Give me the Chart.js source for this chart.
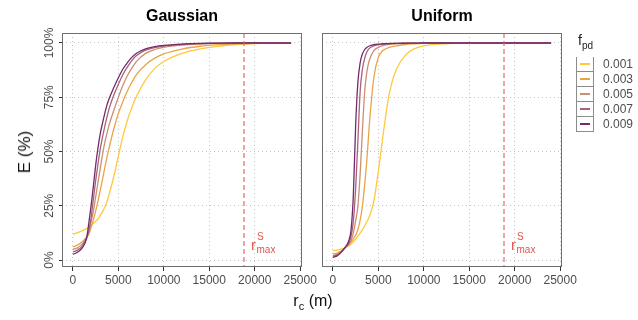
<!DOCTYPE html>
<html>
<head>
<meta charset="utf-8">
<script src="https://cdn.jsdelivr.net/npm/chart.js@4"></script>
<style>
body { margin: 0; background: #fff; font-family: "Liberation Sans", Arial, sans-serif; }
#wrap { position: relative; width: 638px; height: 320px; overflow: hidden; }
#wrap canvas { position: absolute; left: 0; top: 0; }
#ytitle { position: absolute; left: 25px; top: 152px; transform: translate(-50%, -50%) rotate(-90deg); font-size: 17px; font-weight: normal; color: #111; white-space: nowrap; }
#xtitle { position: absolute; left: 313px; top: 302px; transform: translate(-50%, -50%); font-size: 16px; color: #111; white-space: nowrap; }
#xtitle sub { font-size: 11px; }
#legend { position: absolute; left: 576px; top: 32px; font-size: 12px; color: #222; }
#legend .lt { font-size: 14px; margin-bottom: 6px; padding-left: 2px; }
#legend .lt sub { font-size: 10px; }
#legend .row { display: flex; align-items: center; height: 15px; }
#legend .key { width: 16px; height: 14px; border: 1px solid #8c8c8c; border-top-width: 0; position: relative; box-sizing: content-box; }
#legend .row:first-of-type .key { border-top-width: 1px; height: 13px; }
#legend .key span { position: absolute; left: 3px; right: 3px; top: 6px; height: 2px; }
#legend .txt { margin-left: 9px; color: #4d4d4d; }
</style>
</head>
<body>
<div id="wrap">
  <canvas id="gauss" width="638" height="320"></canvas>
  <canvas id="unif" width="638" height="320"></canvas>
  <div id="ytitle">E (%)</div>
  <div id="xtitle">r<sub>c</sub> (m)</div>
  <div id="legend"><div class="lt">f<sub>pd</sub></div></div>
</div>
<script>
// -------------------------------------------- data
const xs = [0, 500, 1000, 1500, 1750, 2000, 2250, 2500, 2750, 3000, 3250, 3500, 3750, 4000, 4500,
            5000, 5500, 6000, 6500, 7000, 8000, 9000, 10000, 12000, 14000, 16000, 18000, 20000, 22000, 24000];

const fpd = ['0.001', '0.003', '0.005', '0.007', '0.009'];
const colors = ['#FFC93C', '#E9A449', '#CC8F72', '#A8627A', '#742A6B'];

// Gaussian panel, E (%)
const g1 = [12, 12.6, 13.5, 14.5, 15.2, 16, 16.8, 17.8, 19, 20.5, 22.3, 24.3, 27, 30.5, 38.5, 48, 57, 64.5, 70.5, 75.5, 83, 88.3, 91.5, 95.2, 97.3, 98.5, 99.3, 99.7, 99.9, 100];
const g3 = [6.1, 6.9, 8.3, 10.5, 12.0, 15, 18.5, 22.5, 27, 32, 37, 42.5, 47.5, 52, 60.5, 67.5, 73, 78, 82, 85.5, 90, 93, 95, 97.2, 98.5, 99.2, 99.6, 99.8, 100, 100];
const g5 = [4.9, 5.6, 7.2, 10.5, 12.8, 17.5, 22.5, 29, 35.5, 42, 48.5, 54, 58.5, 62.5, 69, 75, 80.5, 85, 88.5, 91.5, 95.2, 97, 98, 99, 99.5, 99.8, 99.9, 100, 100, 100];
const g7 = [3.8, 4.6, 6.3, 10, 13.5, 19.5, 28, 36.5, 44, 51, 56.5, 61.5, 66, 70, 76, 81, 85.5, 89, 92, 94.2, 96.7, 97.9, 98.6, 99.4, 99.7, 99.9, 100, 100, 100, 100];
const g9 = [2.6, 3.6, 5.5, 10, 17, 25, 34, 43.5, 51.5, 58, 63, 67.5, 71.5, 74.5, 79.5, 84, 88, 91, 93.5, 95.3, 97.3, 98.3, 98.9, 99.5, 99.8, 99.9, 100, 100, 100, 100];

// Uniform panel, E (%)
const u1 = [4.3, 4.6, 5.1, 6.0, 6.6, 7.4, 8.4, 9.6, 11, 12.5, 14, 15.8, 17.8, 20, 27, 41, 57, 72, 82, 88, 94.5, 97.4, 98.7, 99.6, 99.9, 100, 100, 100, 100, 100];
const u3 = [2.8, 3.3, 4.5, 6.2, 7.2, 8.3, 9.8, 11.5, 14, 18.5, 25, 35, 47, 62, 84, 93.5, 96.5, 97.7, 98.3, 98.7, 99.3, 99.6, 99.8, 100, 100, 100, 100, 100, 100, 100];
const u5 = [2.1, 2.8, 4.2, 6.3, 7.3, 9.0, 12.5, 18, 25, 40, 60, 78, 87, 92, 96.5, 98, 98.8, 99.2, 99.5, 99.65, 99.8, 99.9, 99.95, 100, 100, 100, 100, 100, 100, 100];
const u7 = [1.7, 2.4, 4.1, 6.5, 7.8, 11, 18, 33, 55, 78, 88, 93, 96, 97.5, 98.7, 99.2, 99.5, 99.65, 99.75, 99.8, 99.9, 99.95, 100, 100, 100, 100, 100, 100, 100, 100];
const u9 = [1.2, 2.0, 4.0, 6.8, 9.0, 14, 30, 62, 82, 91, 95, 97, 98, 98.6, 99.2, 99.5, 99.65, 99.75, 99.8, 99.85, 99.9, 99.95, 100, 100, 100, 100, 100, 100, 100, 100];

const xTicks = [0, 5000, 10000, 15000, 20000, 25000];
const yTicks = [0, 25, 50, 75, 100];
const yTickLabels = ['0%', '25%', '50%', '75%', '100%'];
const rMax = 18800;

// -------------------------------------------- legend
const legend = document.getElementById('legend');
fpd.forEach((f, i) => {
    const row = document.createElement('div');
    row.className = 'row';
    row.innerHTML = '<div class="key"><span style="background:' + colors[i] + '"></span></div><div class="txt">' + f + '</div>';
    legend.appendChild(row);
});

// -------------------------------------------- panels
const FONT = '"Liberation Sans", Arial, sans-serif';

const panelPlugin = {
    id: 'panel',
    afterDatasetsDraw(chart, args, opts) {
        const ctx = chart.ctx;
        const a = chart.chartArea;
        const x = Math.round(chart.scales.x.getPixelForValue(rMax));
        // r max line
        ctx.save();
        ctx.strokeStyle = 'rgba(226, 98, 88, 0.8)';
        ctx.lineWidth = 1.4;
        ctx.setLineDash([5, 3]);
        ctx.beginPath();
        ctx.moveTo(x, a.top);
        ctx.lineTo(x, a.bottom);
        ctx.stroke();
        ctx.setLineDash([]);
        // label
        ctx.fillStyle = '#E0574E';
        ctx.textBaseline = 'alphabetic';
        ctx.font = '15px ' + FONT;
        ctx.fillText('r', x + 7, 250);
        ctx.font = '10px ' + FONT;
        ctx.fillText('S', x + 13, 240);
        ctx.fillText('max', x + 12.5, 253);
        // border
        ctx.strokeStyle = '#6f6f6f';
        ctx.lineWidth = 1;
        ctx.strokeRect(Math.round(a.left) + 0.5, Math.round(a.top) + 0.5, Math.round(a.right - a.left) - 1, Math.round(a.bottom - a.top) - 1);
        ctx.restore();
    },
    afterDraw(chart, args, opts) {
        const ctx = chart.ctx;
        const a = chart.chartArea;
        ctx.save();
        ctx.fillStyle = '#000';
        ctx.font = 'bold 16px ' + FONT;
        ctx.textAlign = 'center';
        ctx.textBaseline = 'middle';
        ctx.fillText(opts.title, (a.left + a.right) / 2, 17);
        if (opts.yLabels) {
            const ys = chart.scales.y;
            ctx.fillStyle = '#4d4d4d';
            ctx.font = '12px ' + FONT;
            yTicks.forEach((v, i) => {
                ctx.save();
                ctx.translate(50, ys.getPixelForValue(v));
                ctx.rotate(-Math.PI / 2);
                ctx.fillText(yTickLabels[i], 0, 0);
                ctx.restore();
            });
        }
        ctx.restore();
    }
};

function makePanel(id, title, series, left, right, yLabels) {
    const datasets = series.map((vals, i) => ({
        label: fpd[i],
        data: xs.map((x, j) => ({x: x, y: vals[j]})),
        borderColor: colors[i],
        borderWidth: 1.3,
        pointRadius: 0,
        fill: false,
        cubicInterpolationMode: 'monotone',
        order: series.length - 1 - i,
    }));
    return new Chart(document.getElementById(id), {
        type: 'line',
        data: {datasets: datasets},
        plugins: [panelPlugin],
        options: {
            responsive: false,
            animation: false,
            events: [],
            layout: {padding: {left: left - (yLabels ? 3 : 0), right: 638 - right, top: 33, bottom: 320 - 267 - 22}},
            plugins: {
                legend: {display: false},
                tooltip: {enabled: false},
                panel: {title: title, yLabels: yLabels},
            },
            scales: {
                x: {
                    type: 'linear',
                    min: -1200,
                    max: 25200,
                    afterBuildTicks: (s) => { s.ticks = xTicks.map(v => ({value: v})); },
                    afterFit: (s) => { s.height = 22; },
                    ticks: {
                        color: '#4d4d4d',
                        font: {size: 12, family: FONT},
                        padding: 2,
                        maxRotation: 0,
                        autoSkip: false,
                        callback: (v) => String(v),
                    },
                    grid: {color: '#c4c4c4', lineWidth: 1, tickLength: 4, tickColor: '#333', tickWidth: 1},
                    border: {display: false, dash: [1, 3]},
                },
                y: {
                    type: 'linear',
                    min: -3.2,
                    max: 104.6,
                    afterBuildTicks: (s) => { s.ticks = yTicks.map(v => ({value: v})); },
                    afterFit: (s) => { s.width = yLabels ? 3 : 0; },
                    ticks: {display: false},
                    grid: {color: '#c4c4c4', lineWidth: 1, drawTicks: yLabels, tickLength: 3, tickColor: '#333', tickWidth: 1},
                    border: {display: false, dash: [1, 3]},
                }
            }
        }
    });
}

const gaussChart = makePanel('gauss', 'Gaussian', [g1, g3, g5, g7, g9], 62, 302, true);
const unifChart = makePanel('unif', 'Uniform', [u1, u3, u5, u7, u9], 322, 562, false);
</script>
</body>
</html>
